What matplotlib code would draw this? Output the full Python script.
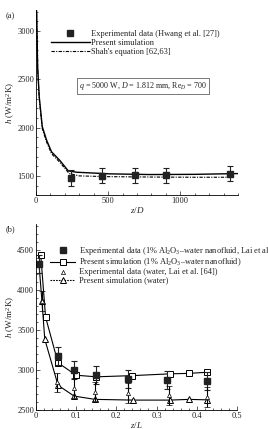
import numpy as np
import matplotlib
matplotlib.use('Agg')
import matplotlib.pyplot as plt
from matplotlib.lines import Line2D
from matplotlib.ticker import MultipleLocator

plt.rcParams['font.family'] = ['Liberation Serif', 'DejaVu Serif']
plt.rcParams['mathtext.fontset'] = 'custom'
plt.rcParams['mathtext.rm'] = 'Liberation Serif'
plt.rcParams['mathtext.it'] = 'Liberation Serif:italic'
plt.rcParams['font.size'] = 6

# ---- panel (a) data: h vs z/D ----
exp_a_z = [240, 460, 685, 900, 1345]
exp_a_h = [1478, 1500, 1505, 1505, 1522]
exp_a_err = [78, 78, 78, 78, 78]

sim_a_z = [0, 5, 12, 23, 44, 74, 108, 166, 224, 281, 512, 788, 1100, 1400]
sim_a_h = [3250, 3200, 2630, 2320, 2010, 1870, 1750, 1660, 1552, 1538, 1521, 1514, 1516, 1524]

shah_z = [0, 5, 12, 23, 44, 74, 108, 166, 230, 300, 500, 800, 1100, 1380]
shah_h = [3250, 3180, 2600, 2300, 1990, 1850, 1730, 1640, 1525, 1500, 1492, 1488, 1486, 1486]

# ---- panel (b) data: h vs z/L ----
exp_nf_x = [0.007, 0.055, 0.094, 0.150, 0.230, 0.325, 0.426]
exp_nf_h = [4320, 3170, 3005, 2935, 2890, 2875, 2860]
exp_nf_err = [110, 113, 113, 113, 113, 113, 113]

sim_nf_x = [0.012, 0.024, 0.055, 0.100, 0.150, 0.240, 0.333, 0.381, 0.426]
sim_nf_h = [4435, 3660, 3090, 2935, 2915, 2930, 2952, 2958, 2972]

exp_w_x = [0.015, 0.053, 0.094, 0.148, 0.228, 0.330, 0.425]
exp_w_h = [3860, 2845, 2775, 2730, 2715, 2685, 2665]
exp_w_err = [130, 120, 120, 120, 120, 120, 120]

sim_w_x = [0.008, 0.015, 0.022, 0.055, 0.095, 0.147, 0.241, 0.333, 0.381, 0.426]
sim_w_h = [4300, 3860, 3385, 2810, 2675, 2634, 2625, 2625, 2634, 2628]

txt = '#222222'

fig = plt.figure(figsize=(2.68, 4.29), dpi=100)
ax1 = fig.add_axes([0.134, 0.545, 0.754, 0.432])
ax2 = fig.add_axes([0.134, 0.044, 0.750, 0.434])

for ax in (ax1, ax2):
    ax.spines['top'].set_visible(False)
    ax.spines['right'].set_visible(False)
    ax.spines['left'].set_linewidth(0.6)
    ax.spines['bottom'].set_linewidth(0.6)
    ax.tick_params(which='both', direction='in', width=0.5, labelsize=6, colors=txt, pad=1.2)
    ax.tick_params(which='major', length=3)
    ax.tick_params(which='minor', length=1.6)

# (a)
ax1.plot(sim_a_z, sim_a_h, color='k', lw=1.0)
ax1.plot(shah_z, shah_h, color='k', lw=0.8, linestyle=(0, (3, 1.2, 1, 1.2)))
ax1.errorbar(exp_a_z, exp_a_h, yerr=exp_a_err, fmt='s', color='#222222', ms=4,
             capsize=2.5, elinewidth=0.8, capthick=0.8)
ax1.set_xlim(0, 1400)
ax1.set_ylim(1300, 3220)
ax1.xaxis.set_major_locator(MultipleLocator(500))
ax1.xaxis.set_minor_locator(MultipleLocator(100))
ax1.yaxis.set_major_locator(MultipleLocator(500))
ax1.yaxis.set_minor_locator(MultipleLocator(100))
ax1.set_xlabel('$z/D$', fontsize=6.5, color=txt, labelpad=0)
ax1.set_ylabel('$h$ (W/m$^2$K)', fontsize=6.5, color=txt)
ax1.yaxis.set_label_coords(-0.095, 0.5)

h_a = [Line2D([], [], marker='s', color='#222222', ls='none', ms=4),
       Line2D([], [], color='k', lw=1.0),
       Line2D([], [], color='k', lw=0.8, ls=(0, (3, 1.2, 1, 1.2)))]
ax1.legend(h_a, ['Experimental data (Hwang et al. [27])', 'Present simulation',
                 "Shah's equation [62,63]"],
           loc='upper left', bbox_to_anchor=(0.055, 0.915), frameon=False,
           fontsize=6, handlelength=4.6, handletextpad=0.2, labelspacing=0.15,
           borderpad=0, labelcolor=txt)
ax1.text(0.53, 0.59, '$q$ = 5000 W, $D$ = 1.812 mm, Re$_D$ = 700',
         transform=ax1.transAxes, ha='center', va='center', fontsize=5.8, color=txt,
         bbox=dict(boxstyle='square,pad=0.25', fc='white', ec='#444444', lw=0.5))
fig.text(0.022, 0.958, '(a)', fontsize=6, color=txt)

# (b)
ax2.plot(sim_nf_x, sim_nf_h, color='k', lw=0.8, marker='s', mfc='white', mec='k',
         ms=4.5, mew=0.7)
ax2.plot(sim_w_x, sim_w_h, color='k', lw=0.8, marker='^', mfc='white', mec='k',
         ms=4.5, mew=0.7, markevery=list(range(1, len(sim_w_x))))
ax2.errorbar(exp_nf_x, exp_nf_h, yerr=exp_nf_err, fmt='s', color='#222222', ms=4,
             capsize=2.5, elinewidth=0.8, capthick=0.8)
ax2.errorbar(exp_w_x, exp_w_h, yerr=exp_w_err, fmt='^', color='k', mfc='white', ms=3,
             mew=0.5, capsize=2.5, elinewidth=0.8, capthick=0.8)
ax2.set_xlim(0, 0.5)
ax2.set_ylim(2500, 4820)
ax2.xaxis.set_minor_locator(MultipleLocator(0.02))
ax2.yaxis.set_major_locator(MultipleLocator(500))
ax2.yaxis.set_minor_locator(MultipleLocator(100))
ax2.set_xticks([0, 0.1, 0.2, 0.3, 0.4, 0.5])
ax2.set_xticklabels(['0', '0.1', '0.2', '0.3', '0.4', '0.5'])
ax2.set_xlabel('$z/L$', fontsize=6.5, color=txt, labelpad=0)
ax2.set_ylabel('$h$ (W/m$^2$K)', fontsize=6.5, color=txt)
ax2.yaxis.set_label_coords(-0.095, 0.5)

h_b = [Line2D([], [], marker='s', color='#222222', ls='none', ms=4),
       Line2D([], [], color='k', lw=0.8, marker='s', mfc='white', mec='k', ms=4.5, mew=0.7),
       Line2D([], [], marker='^', color='k', mfc='white', ls='none', ms=3, mew=0.5),
       Line2D([], [], color='k', lw=0.8, ls=(0, (1.5, 1)), marker='^', mfc='white',
              mec='k', ms=4.5, mew=0.7)]
ax2.legend(h_b, ['Experimental data (1% Al$_2$O$_3$\u2013water nanofluid, Lai et al. [64])',
                 'Present simulation (1% Al$_2$O$_3$\u2013water nanofluid)',
                 'Experimental data (water, Lai et al. [64])',
                 'Present simulation (water)'],
           loc='upper left', bbox_to_anchor=(0.05, 0.91), frameon=False,
           fontsize=6, handlelength=3.0, handletextpad=0.5, labelspacing=0.0,
           borderpad=0, labelcolor=txt)
fig.text(0.022, 0.462, '(b)', fontsize=6, color=txt)

fig.savefig('out.png', dpi=100)
